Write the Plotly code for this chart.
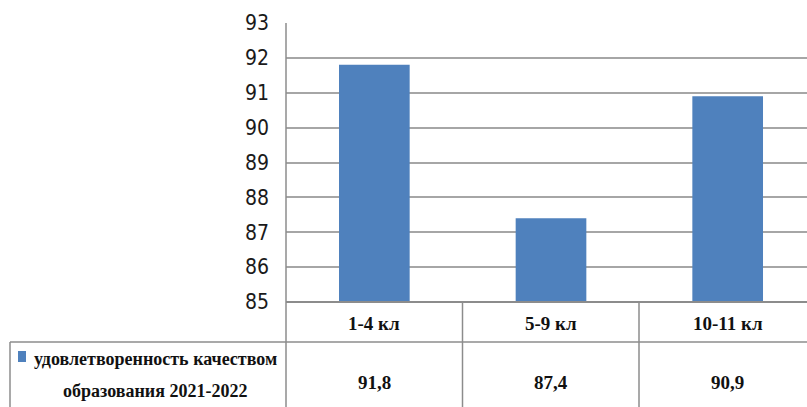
import plotly.graph_objects as go

categories = ['1-4 кл', '5-9 кл', '10-11 кл']
values = [91.8, 87.4, 90.9]
value_labels = ['91,8', '87,4', '90,9']
legend_lines = ['удовлетворенность качеством', 'образования 2021-2022']
y_ticks = [85, 86, 87, 88, 89, 90, 91, 92, 93]

W, H = 807, 407
BLUE = '#4f81bd'
LINE = '#8c8c8c'


def px_x(v):
    return v / W


def px_y(v):
    return 1 - v / H


fig = go.Figure()

fig.add_trace(go.Bar(
    x=[0, 1, 2],
    y=values,
    width=0.4,
    marker=dict(color=BLUE, line=dict(width=0)),
    hoverinfo='skip',
))

# data table lines under the chart
shapes = []
shapes.append(dict(type='line', xref='paper', yref='paper',
                   x0=px_x(10), x1=1, y0=px_y(342), y1=px_y(342),
                   line=dict(color=LINE, width=1.5)))
shapes.append(dict(type='line', xref='paper', yref='paper',
                   x0=px_x(286), x1=1, y0=px_y(302), y1=px_y(302),
                   line=dict(color=LINE, width=2)))
for xv in [286, 462.5, 639]:
    y_top = 23 if xv == 286 else 302
    shapes.append(dict(type='line', xref='paper', yref='paper',
                       x0=px_x(xv), x1=px_x(xv), y0=px_y(y_top), y1=0,
                       line=dict(color=LINE, width=1.5)))
shapes.append(dict(type='line', xref='paper', yref='paper',
                   x0=px_x(10), x1=px_x(10), y0=px_y(342), y1=0,
                   line=dict(color=LINE, width=1.5)))
# legend key
shapes.append(dict(type='rect', xref='paper', yref='paper',
                   x0=px_x(18), x1=px_x(26), y0=px_y(362), y1=px_y(351),
                   fillcolor=BLUE, line=dict(width=0)))

annotations = []
table_font = dict(family='Liberation Serif', size=19, color='#111111')
for i, (c, v) in enumerate(zip(categories, value_labels)):
    annotations.append(dict(x=i, y=px_y(323), xref='x', yref='paper',
                            text='<b>%s</b>' % c, showarrow=False,
                            font=table_font, xanchor='center', yanchor='middle'))
    annotations.append(dict(x=i, y=px_y(382), xref='x', yref='paper',
                            text='<b>%s</b>' % v, showarrow=False,
                            font=table_font, xanchor='center', yanchor='middle'))
for ln, yy in zip(legend_lines, [359, 391]):
    annotations.append(dict(x=px_x(155), y=px_y(yy), xref='paper', yref='paper',
                            text='<b>%s</b>' % ln, showarrow=False,
                            font=dict(family='Liberation Serif', size=18, color='#111111'),
                            xanchor='center', yanchor='middle'))

fig.update_layout(
    width=W, height=H,
    margin=dict(l=0, r=0, t=0, b=0, autoexpand=False),
    paper_bgcolor='white', plot_bgcolor='white',
    showlegend=False,
    shapes=shapes,
    annotations=annotations,
    xaxis=dict(
        domain=[px_x(286), 1],
        range=[-0.5, 2.449],
        showticklabels=False, showgrid=False, zeroline=False,
        automargin=False, fixedrange=True,
    ),
    yaxis=dict(
        domain=[px_y(302), px_y(23)],
        range=[85, 93],
        tickvals=y_ticks,
        ticktext=[str(t) for t in y_ticks],
        showgrid=True, gridcolor='#a6a6a6', gridwidth=2,
        zeroline=False, showline=False,
        ticks='', ticklabelstandoff=16,
        tickfont=dict(family='Liberation Sans Narrow, DejaVu Sans Condensed, Arial', size=21, color='#1a1a1a'),
        automargin=False, fixedrange=True,
    ),
)

fig.write_html('out.html', config={'displayModeBar': False},
               post_script="document.body.style.margin='0';")
